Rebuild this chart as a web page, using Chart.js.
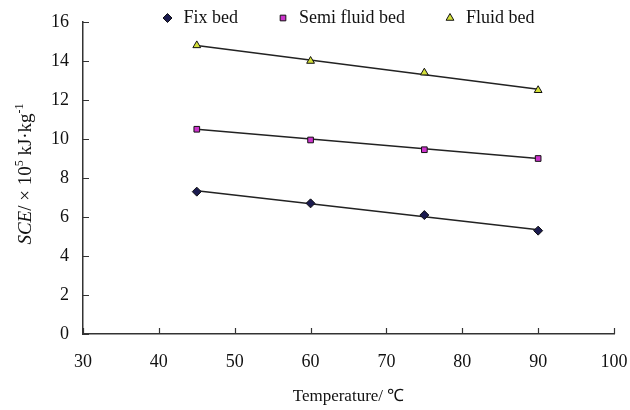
<!DOCTYPE html>
<html>
<head>
<meta charset="utf-8">
<script src="https://cdn.jsdelivr.net/npm/chart.js@4"></script>
<style>
  body { margin: 0; background: #fff; }
  #wrap { width: 630px; height: 410px; position: relative; }
</style>
</head>
<body>
<div id="wrap"><canvas id="c"></canvas></div>
<script>
// values
const temps = [45, 60, 75, 90];
const fixBed = [7.3, 6.7, 6.1, 5.3];
const semiFluidBed = [10.5, 9.95, 9.45, 9.0];
const fluidBed = [14.8, 14.0, 13.4, 12.5];

// trend line end points (at 45 and 90 degC)
const trendX = [45, 90];
const fixTrend = [7.35, 5.35];
const semiTrend = [10.5, 9.0];
const fluidTrend = [14.8, 12.55];

const xTicks = [30, 40, 50, 60, 70, 80, 90, 100];
const yTicks = [0, 2, 4, 6, 8, 10, 12, 14, 16];

const serif = '"Liberation Serif", "Times New Roman", serif';
const pts = (xs, ys) => xs.map((x, i) => ({ x: x, y: ys[i] }));

const trend = (ys) => ({
  label: '_trend',
  data: pts(trendX, ys),
  borderColor: '#222',
  borderWidth: 1.5,
  pointRadius: 0,
  showLine: true,
  order: 2
});

const marks = (label, ys, style, fill, size) => ({
  label: label,
  data: pts(temps, ys),
  showLine: false,
  pointStyle: style,
  pointRadius: size,
  pointBackgroundColor: fill,
  backgroundColor: fill,
  pointBorderColor: '#111',
  borderColor: '#111',
  pointBorderWidth: 1,
  borderWidth: 1,
  order: 1
});

// inward tick marks, legend row and y axis title with italic part
const extras = {
  id: 'extras',
  afterDraw(chart) {
    const ctx = chart.ctx;
    const xs = chart.scales.x, ys = chart.scales.y;
    const a = chart.chartArea;
    ctx.save();
    ctx.strokeStyle = '#333';
    ctx.lineWidth = 1.2;
    ctx.beginPath();
    xTicks.forEach(t => {
      const px = Math.round(xs.getPixelForValue(t)) + 0.5;
      ctx.moveTo(px, a.bottom);
      ctx.lineTo(px, a.bottom - 6);
    });
    yTicks.forEach(t => {
      const py = Math.round(ys.getPixelForValue(t)) + 0.5;
      ctx.moveTo(a.left, py);
      ctx.lineTo(a.left + 6, py);
    });
    ctx.stroke();

    // legend
    const items = chart.data.datasets.filter(d => d.label !== '_trend');
    ctx.font = '18px ' + serif;
    ctx.textBaseline = 'middle';
    const boxW = 10, gapText = 11, gapItem = 40;
    const widths = items.map(d => boxW + gapText + ctx.measureText(d.label).width);
    const total = widths.reduce((s, w) => s + w, 0) + gapItem * (items.length - 1);
    let lx = (a.left + a.right) / 2 - total / 2;
    const ly = 18;
    items.forEach((d, i) => {
      ctx.fillStyle = d.pointBackgroundColor;
      ctx.strokeStyle = d.pointBorderColor;
      ctx.lineWidth = 1;
      Chart.helpers.drawPoint(ctx, {
        pointStyle: d.pointStyle,
        radius: d.pointRadius,
        borderWidth: 1,
        rotation: 0
      }, lx + boxW / 2, ly);
      ctx.fillStyle = '#111';
      ctx.textAlign = 'left';
      ctx.fillText(d.label, lx + boxW + gapText, ly);
      lx += widths[i] + gapItem;
    });

    // y title
    ctx.translate(26, 174);
    ctx.rotate(-Math.PI / 2);
    ctx.fillStyle = '#111';
    ctx.textBaseline = 'middle';
    const parts = [
      ['italic 19px ' + serif, 'SCE', 0],
      ['19px ' + serif, '/ \u00d7 10', 0],
      ['12px ' + serif, '5', -6],
      ['19px ' + serif, ' kJ\u00b7kg', 0],
      ['12px ' + serif, '-1', -6]
    ];
    let w = 0;
    parts.forEach(p => { ctx.font = p[0]; w += ctx.measureText(p[1]).width; });
    let x = -w / 2;
    parts.forEach(p => {
      ctx.font = p[0];
      ctx.fillText(p[1], x, p[2]);
      x += ctx.measureText(p[1]).width;
    });
    ctx.restore();
  }
};

new Chart(document.getElementById('c'), {
  type: 'scatter',
  data: {
    datasets: [
      marks('Fix bed', fixBed, 'rectRot', '#1b1b4f', 4.5),
      marks('Semi fluid bed', semiFluidBed, 'rect', '#cc33cc', 4),
      marks('Fluid bed', fluidBed, 'triangle', '#d4e03a', 4.5),
      trend(fixTrend),
      trend(semiTrend),
      trend(fluidTrend)
    ]
  },
  options: {
    responsive: true,
    maintainAspectRatio: false,
    animation: false,
    layout: { padding: { left: 0, right: 16, top: 22, bottom: 0 } },
    plugins: {
      legend: { display: false },
      tooltip: { enabled: false }
    },
    scales: {
      x: {
        type: 'linear',
        min: 30,
        max: 100,
        afterBuildTicks: s => { s.ticks = xTicks.map(v => ({ value: v })); },
        afterFit: s => { s.height = 76; s.paddingRight = 0; s.paddingLeft = 0; },
        ticks: { color: '#111', padding: 9, font: { family: serif, size: 18 } },
        grid: { display: false },
        border: { display: true, color: '#333', width: 1.5 },
        title: {
          display: true,
          text: 'Temperature/ \u2103',
          color: '#111',
          padding: { top: 0, bottom: 3 },
          font: { family: serif, size: 17 }
        }
      },
      y: {
        min: 0,
        max: 16,
        afterBuildTicks: s => { s.ticks = yTicks.map(v => ({ value: v })); },
        afterFit: s => { s.width = 83; },
        ticks: { color: '#111', padding: 6, font: { family: serif, size: 18 } },
        grid: { display: false },
        border: { display: true, color: '#333', width: 1.5 }
      }
    }
  },
  plugins: [extras]
});
</script>
</body>
</html>
